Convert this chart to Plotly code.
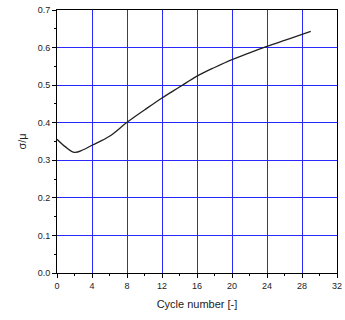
import plotly.graph_objects as go

cycles = [0, 1, 2, 3, 4, 6, 8, 10, 12, 14, 16, 18, 20, 22, 24, 26, 28, 29]
ratio = [0.356, 0.335, 0.321, 0.328, 0.340, 0.364, 0.401, 0.434, 0.466, 0.495, 0.524, 0.547, 0.568, 0.586, 0.603, 0.619, 0.635, 0.643]
x_ticks = [0, 4, 8, 12, 16, 20, 24, 28, 32]
y_ticks = [0.0, 0.1, 0.2, 0.3, 0.4, 0.5, 0.6, 0.7]

fig = go.Figure()
fig.add_trace(go.Scatter(x=cycles, y=ratio, mode="lines",
                         line=dict(color="#222", width=1.3, shape="spline"),
                         showlegend=False))

tickfont = dict(family="Liberation Sans, Arial", size=9, color="#222")
fig.update_layout(
    width=345, height=320,
    margin=dict(l=57, r=3, t=10, b=47),
    plot_bgcolor="white", paper_bgcolor="white",
    xaxis=dict(range=[0, 32], tickvals=x_ticks, ticktext=[str(v) for v in x_ticks],
               showgrid=True, gridcolor="rgb(40,40,255)", gridwidth=1,
               showline=True, linecolor="black", linewidth=1, mirror=True,
               ticks="outside", ticklen=4, tickcolor="black",
               minor=dict(dtick=2, ticks="outside", ticklen=2, tickcolor="black", showgrid=False),
               tickfont=tickfont, zeroline=False, ticklabeloverflow="allow",
               title=dict(text="Cycle number [-]", font=dict(family="Liberation Sans, Arial", size=11, color="#222"), standoff=10)),
    yaxis=dict(range=[0, 0.7], tickvals=y_ticks, ticktext=[f"{v:.1f}" for v in y_ticks],
               showgrid=True, gridcolor="rgb(40,40,255)", gridwidth=1,
               showline=True, linecolor="black", linewidth=1, mirror=True,
               ticks="outside", ticklen=4, tickcolor="black",
               minor=dict(dtick=0.05, ticks="outside", ticklen=2, tickcolor="black", showgrid=False),
               tickfont=tickfont, zeroline=False,
               title=dict(text="σ/μ", font=dict(family="Liberation Sans, Arial", size=11, color="#222"), standoff=8)),
)
fig.write_html("out.html")
